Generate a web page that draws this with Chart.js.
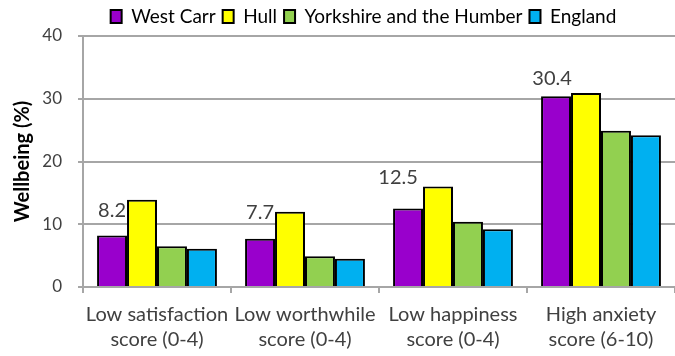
<!DOCTYPE html>
<html>
<head>
<meta charset="utf-8">
<script src="https://cdn.jsdelivr.net/npm/chart.js@4.4.1/dist/chart.umd.min.js"></script>
<style>
  html, body { margin: 0; padding: 0; background: #fff; }
  #wrap { width: 675px; height: 356px; }
</style>
</head>
<body>
<div id="wrap"><canvas id="wellbeingChart"></canvas></div>
<script>
const categories = [
    ['Low satisfaction', 'score (0-4)'],
    ['Low worthwhile', 'score (0-4)'],
    ['Low happiness', 'score (0-4)'],
    ['High anxiety', 'score (6-10)']
];
const westCarr = [8.2, 7.7, 12.5, 30.4];
const hull = [13.9, 12.0, 16.0, 30.9];
const yorkshire = [6.5, 4.9, 10.4, 24.9];
const england = [6.1, 4.5, 9.2, 24.2];
const yTicks = [0, 10, 20, 30, 40];

const FONT = 'Lato, "Open Sans", sans-serif';
const gridGrey = '#a6a6a6';

// value labels above the West Carr bars only, nudged a little to clear neighbours
const labelNudge = [[0, -25], [0, -26], [-10, -31], [-4, -18]];
const westCarrLabels = {
    id: 'westCarrLabels',
    afterDatasetsDraw(chart) {
        const ctx = chart.ctx;
        const meta = chart.getDatasetMeta(0);
        ctx.save();
        ctx.font = '20px ' + FONT;
        ctx.fillStyle = '#404040';
        ctx.textAlign = 'center';
        ctx.textBaseline = 'middle';
        meta.data.forEach((bar, i) => {
            const [dx, dy] = labelNudge[i];
            ctx.fillText(westCarr[i].toFixed(1), bar.x + dx, bar.y + dy);
        });
        ctx.restore();
    }
};

// legend sits a bit right of the canvas centre
const legendShift = {
    id: 'legendShift',
    afterLayout(chart) {
        chart.legend.left += 24;
        chart.legend.right += 24;
    }
};

function makeSet(label, data, colour) {
    return {
        label: label,
        data: data,
        backgroundColor: colour,
        borderColor: '#000',
        borderWidth: 2,
        borderSkipped: 'bottom',
        categoryPercentage: 0.81,
        barPercentage: 1.0
    };
}

new Chart(document.getElementById('wellbeingChart'), {
    type: 'bar',
    data: {
        labels: categories,
        datasets: [
            makeSet('West Carr', westCarr, '#9900cc'),
            makeSet('Hull', hull, '#ffff00'),
            makeSet('Yorkshire and the Humber', yorkshire, '#92d050'),
            makeSet('England', england, '#00b0f0')
        ]
    },
    options: {
        responsive: true,
        maintainAspectRatio: false,
        animation: false,
        layout: { padding: { left: 4, right: 0, top: 0, bottom: 0 } },
        plugins: {
            legend: {
                display: true,
                position: 'top',
                labels: {
                    color: '#000',
                    font: { family: FONT, size: 19 },
                    boxWidth: 11,
                    boxHeight: 13,
                    padding: 7
                }
            },
            tooltip: { enabled: false }
        },
        scales: {
            x: {
                afterFit(scale) { scale.height = 69; },
                grid: {
                    display: true,
                    drawOnChartArea: false,
                    offset: true,
                    color: gridGrey,
                    lineWidth: 2,
                    tickLength: 6
                },
                border: { color: gridGrey, width: 2 },
                ticks: {
                    color: '#404040',
                    font: { family: FONT, size: 20, lineHeight: 1.25 },
                    padding: 9,
                    maxRotation: 0,
                    autoSkip: false
                }
            },
            y: {
                min: 0,
                max: 40,
                afterFit(scale) { scale.width = 79; },
                afterBuildTicks(axis) {
                    axis.ticks = yTicks.map(v => ({ value: v }));
                },
                grid: {
                    color: gridGrey,
                    lineWidth: 2,
                    tickLength: 5
                },
                border: { color: gridGrey, width: 2 },
                ticks: {
                    color: '#404040',
                    font: { family: FONT, size: 17 },
                    padding: 16
                },
                title: {
                    display: true,
                    text: 'Wellbeing (%)',
                    color: '#000',
                    font: { family: FONT, size: 20, weight: 'bold', lineHeight: 1.2 },
                    padding: { top: 7, bottom: 4 }
                }
            }
        }
    },
    plugins: [westCarrLabels, legendShift]
});
</script>
</body>
</html>
